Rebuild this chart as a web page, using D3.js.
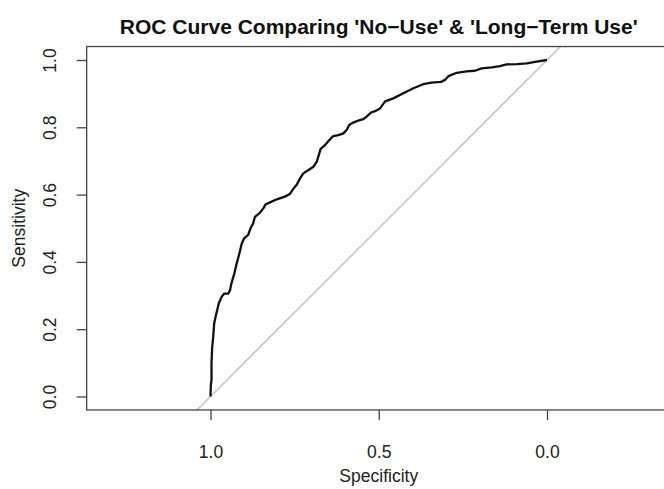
<!DOCTYPE html>
<html>
<head>
<meta charset="utf-8">
<script src="https://cdn.jsdelivr.net/npm/d3@7"></script>
<style>
  html, body { margin: 0; padding: 0; background: #fff; }
  svg { display: block; }
  text { font-family: "Liberation Sans", Arial, Helvetica, sans-serif; }
</style>
</head>
<body>
<svg id="chart" width="664" height="489"></svg>
<script>
// ---- Data ----
const title = "ROC Curve Comparing 'No\u2212Use' & 'Long\u2212Term Use'";
const xLabel = "Specificity";
const yLabel = "Sensitivity";
const xTicks = [1.0, 0.5, 0.0];
const yTicks = [0.0, 0.2, 0.4, 0.6, 0.8, 1.0];

const specificity = [
  1.000, 0.999, 0.997, 0.997, 0.995, 0.992, 0.989, 0.985, 0.980, 0.975,
  0.967, 0.959, 0.947, 0.942, 0.939, 0.935, 0.929, 0.922, 0.914, 0.907,
  0.900, 0.888, 0.881, 0.873, 0.868, 0.855, 0.843, 0.836, 0.823, 0.803,
  0.779, 0.764, 0.754, 0.744, 0.734, 0.724, 0.709, 0.694, 0.684, 0.678,
  0.673, 0.660, 0.647, 0.635, 0.620, 0.605, 0.595, 0.588, 0.576, 0.561,
  0.546, 0.536, 0.523, 0.511, 0.496, 0.487, 0.481, 0.457, 0.427, 0.397,
  0.368, 0.343, 0.315, 0.303, 0.293, 0.268, 0.239, 0.214, 0.194, 0.164,
  0.140, 0.120, 0.090, 0.060, 0.031, 0.000
];
const sensitivity = [
  0.000, 0.034, 0.049, 0.100, 0.147, 0.177, 0.218, 0.236, 0.257, 0.278,
  0.296, 0.306, 0.306, 0.316, 0.331, 0.346, 0.366, 0.396, 0.426, 0.455,
  0.470, 0.480, 0.500, 0.515, 0.534, 0.544, 0.559, 0.571, 0.577, 0.586,
  0.594, 0.602, 0.617, 0.629, 0.648, 0.663, 0.673, 0.683, 0.698, 0.718,
  0.735, 0.747, 0.762, 0.774, 0.777, 0.782, 0.793, 0.807, 0.814, 0.820,
  0.824, 0.832, 0.844, 0.848, 0.856, 0.869, 0.877, 0.886, 0.901, 0.916,
  0.928, 0.933, 0.935, 0.941, 0.952, 0.962, 0.966, 0.968, 0.975, 0.978,
  0.982, 0.987, 0.988, 0.990, 0.995, 1.000
];

// ---- Chart ----
const svg = d3.select("#chart");
svg.append("rect").attr("width", 664).attr("height", 489).attr("fill", "#fff");

const x = d3.scaleLinear().domain([1, 0]).range([210.5, 547]);
const y = d3.scaleLinear().domain([0, 1]).range([396.5, 60]);

// plot region (R: asp = 1, 4% extension on y)
const xMin = 1.368, xMax = -0.368, yMin = -0.04, yMax = 1.04;
const px0 = x(xMin), px1 = x(xMax), py0 = y(yMin), py1 = y(yMax);

const defs = svg.append("defs");
defs.append("clipPath").attr("id", "clip")
  .append("rect").attr("x", px0).attr("y", py1)
  .attr("width", px1 - px0).attr("height", py0 - py1);

const plot = svg.append("g").attr("clip-path", "url(#clip)");

// diagonal reference line sens = 1 - spec
const diag = [1.2, -0.2];
plot.append("line")
  .attr("x1", x(diag[0])).attr("y1", y(1 - diag[0]))
  .attr("x2", x(diag[1])).attr("y2", y(1 - diag[1]))
  .attr("stroke", "#bdbdbd").attr("stroke-width", 1.3);

// ROC curve
const pts = specificity.map((s, i) => [s, sensitivity[i]]);
plot.append("path")
  .datum(pts)
  .attr("fill", "none")
  .attr("stroke", "#111")
  .attr("stroke-width", 2.3)
  .attr("stroke-linejoin", "round")
  .attr("d", d3.line().x(d => x(d[0])).y(d => y(d[1])));

// box
svg.append("rect")
  .attr("x", px0).attr("y", py1)
  .attr("width", px1 - px0).attr("height", py0 - py1)
  .attr("fill", "none").attr("stroke", "#444").attr("stroke-width", 1.3);

// axes
const fmt = d3.format(".1f");
const xAxis = svg.append("g")
  .attr("transform", `translate(0,${py0})`)
  .call(d3.axisBottom(x).tickValues(xTicks).tickFormat(fmt).tickSize(10).tickPadding(0));
xAxis.select(".domain").remove();
xAxis.selectAll(".tick line").attr("stroke", "#444").attr("stroke-width", 1.3);
xAxis.selectAll(".tick text").remove();
xAxis.selectAll(".tick").append("text")
  .attr("y", 458 - py0).attr("text-anchor", "middle")
  .attr("fill", "#222").style("font-size", "17.5px")
  .text(d => fmt(d));

const yAxis = svg.append("g")
  .attr("transform", `translate(${px0},0)`)
  .call(d3.axisLeft(y).tickValues(yTicks).tickFormat(fmt).tickSize(10));
yAxis.select(".domain").remove();
yAxis.selectAll(".tick line").attr("stroke", "#444").attr("stroke-width", 1.3);
yAxis.selectAll(".tick text").remove();
yAxis.selectAll(".tick").append("text")
  .attr("transform", `translate(${56 - px0},0) rotate(-90)`)
  .attr("text-anchor", "middle")
  .attr("fill", "#222").style("font-size", "17.5px")
  .text(d => fmt(d));

// axis titles
svg.append("text")
  .attr("x", (px0 + px1) / 2).attr("y", 482)
  .attr("text-anchor", "middle").attr("fill", "#222")
  .style("font-size", "17.5px").text(xLabel);

svg.append("text")
  .attr("transform", `translate(25,${(py0 + py1) / 2}) rotate(-90)`)
  .attr("text-anchor", "middle").attr("fill", "#222")
  .style("font-size", "17.5px").text(yLabel);

// main title
svg.append("text")
  .attr("x", (px0 + px1) / 2).attr("y", 34)
  .attr("text-anchor", "middle").attr("fill", "#111")
  .style("font-size", "21px").style("font-weight", "bold")
  .text(title);
</script>
</body>
</html>
